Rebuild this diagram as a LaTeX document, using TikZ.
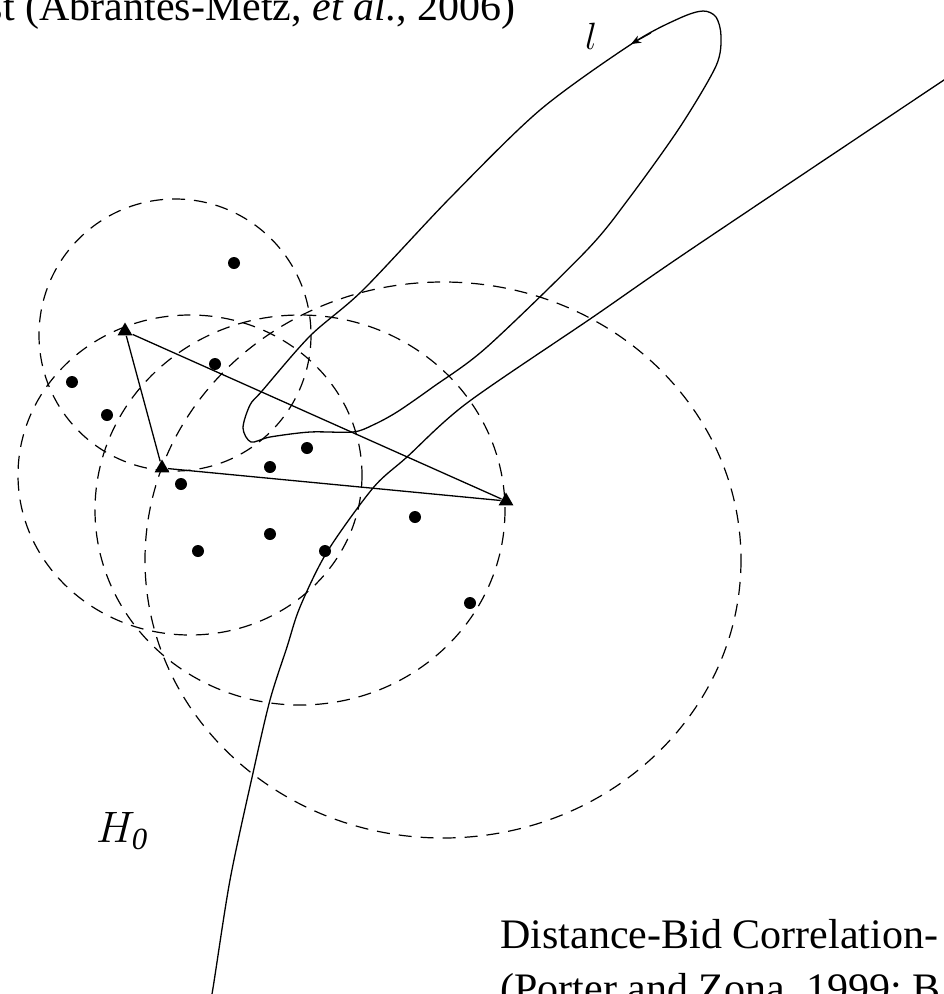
\RequirePackage{fix-cm}
\documentclass[tikz,border=0pt]{standalone}
\usepackage{fontspec}
\setmainfont{Liberation Serif}
\usetikzlibrary{arrows.meta}
\usetikzlibrary{shapes.geometric}
\usetikzlibrary{positioning}

\begin{document}
\begin{tikzpicture}[x=1pt, y=-1pt, line width=1.3pt,
    vertex/.style={regular polygon, regular polygon sides=3, fill=black, inner sep=0pt, minimum size=17pt},
    site/.style={circle, fill=black, inner sep=0pt, minimum size=12pt},
    ring/.style={dash pattern=on 13pt off 9pt, line width=1.2pt},
    caption/.style={font=\fontsize{42}{48}\selectfont, inner sep=0pt}]
          \useasboundingbox (0,0) rectangle (944,994);
          \fill [white] (0,0) rectangle (944,994);

          % dashed circles
          \draw [ring] (175,335) circle [radius=136];
          \draw [ring] (190,475) ellipse [x radius=172, y radius=160];
          \draw [ring] (300,510) ellipse [x radius=205, y radius=195];
          \draw [ring] (443,560) ellipse [x radius=298, y radius=278];

          % long curve and loop
          \draw plot [smooth] coordinates {(207,1010) (212,994) (230,880) (253,773) (270,700) (287,647) (300,607) (327,552) (373,488) (407,457) (467,403) (593,317) (690,250) (944,80) (960,70)};
          \draw plot [smooth cycle, tension=0.5] coordinates {(353,432) (310,432) (270,437) (251,442) (243,428) (250,405) (262,391) (310,336) (363,290) (450,198) (540,110) (633,43) (680,18) (703,11) (716,17) (721,36) (716,66) (680,127) (630,197) (587,250) (487,347) (433,387) (397,412) (373,425)};
          \coordinate (tail) at (651,33);
          \coordinate (tip) at (631,44);
          \draw [-{Stealth[length=10pt,width=8pt]}, line width=1pt] (tail) -- (tip);
          \node [font=\fontsize{38}{44}\selectfont, inner sep=0pt] (lab) at (591,36) {$l$};

          % bidders
          \node [vertex] (A) at (125,331) {};
          \node [vertex] (B) at (162,468) {};
          \node [vertex] (C) at (506,501) {};
          \draw (A) -- (B);
          \draw (A) -- (C);
          \draw (B) -- (C);

          % projects
          \node [site] (p1) at (234,263) {};
          \node [site] (p2) at (72,382) {};
          \node [site] (p3) at (107,415) {};
          \node [site] (p4) at (215,364) {};
          \node [site] (p5) at (307,448) {};
          \node [site] (p6) at (270,467) {};
          \node [site] (p7) at (181,484) {};
          \node [site] (p8) at (415,517) {};
          \node [site] (p9) at (198,551) {};
          \node [site] (p10) at (270,534) {};
          \node [site] (p11) at (325,551) {};
          \node [site] (p12) at (470,603) {};

          \node [font=\fontsize{44}{50}\selectfont, inner sep=0pt] (h0) at (122,831) {$H_{\mathit{0}}$};

          % captions
          \node [caption, anchor=base east] (top) at (516,20) {st (Abrantes-Metz, \textit{et al}., 2006)};
          \node [caption, anchor=base west] (cap1) at (500,948) {Distance-Bid Correlation-};
          \node [caption, anchor=base west] (cap2) at ([yshift=-54pt]cap1.base west) {(Porter and Zona, 1999; B};
\end{tikzpicture}
\end{document}
